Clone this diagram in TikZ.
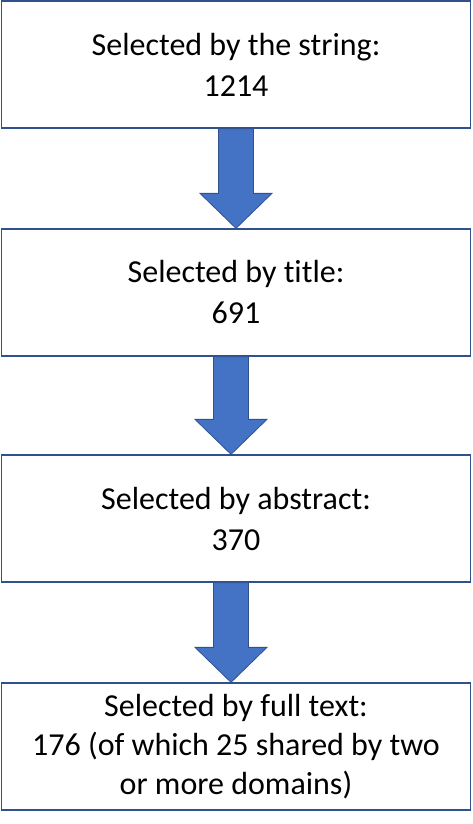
\documentclass[tikz,border=0pt]{standalone}
\usepackage{fontspec}
\setmainfont{Carlito}[Ligatures=NoCommon]
\usetikzlibrary{calc}
\definecolor{boxline}{HTML}{2F528F}
\definecolor{arrowfill}{HTML}{4472C4}

\begin{document}
\begin{tikzpicture}[x=1pt,y=-1pt,
		box/.style={rectangle,draw=boxline,line width=1.3pt,fill=white,
			minimum width=469pt,minimum height=127pt,align=center,
			font=\fontsize{32}{41}\selectfont},
		blockarrow/.style={fill=arrowfill,draw=boxline,line width=0.8pt}]
		\useasboundingbox (0,0) rectangle (472,824);

		% Stages of the selection
		\node[box] (b1) at (236,64.5)  {Selected by the string:\\1214};
		\node[box] (b2) at (236,292.5) {Selected by title:\\691};
		\node[box] (b3) at (236,518.5) {Selected by abstract:\\370};
		\node[box,font=\fontsize{32}{38.7}\selectfont] (b4) at (236,746.5)
			{Selected by full text:\\176 (of which 25 shared by two\\or more domains)};

		% Block arrows between stages
		\coordinate (c1) at (236,0);
		\coordinate (c2) at (231,0);
		\foreach \a/\b/\c in {b1/b2/c1,b2/b3/c2,b3/b4/c2} {
			\coordinate (top) at (\a.south -| \c);
			\coordinate (tip) at (\b.north -| \c);
			\draw[blockarrow] ($(top)+(-17.5,0)$) -- ($(tip)+(-17.5,-35)$)
				-- ($(tip)+(-36,-35)$) -- (tip) -- ($(tip)+(36,-35)$)
				-- ($(tip)+(17.5,-35)$) -- ($(top)+(17.5,0)$) -- cycle;
		}
	\end{tikzpicture}
\end{document}
